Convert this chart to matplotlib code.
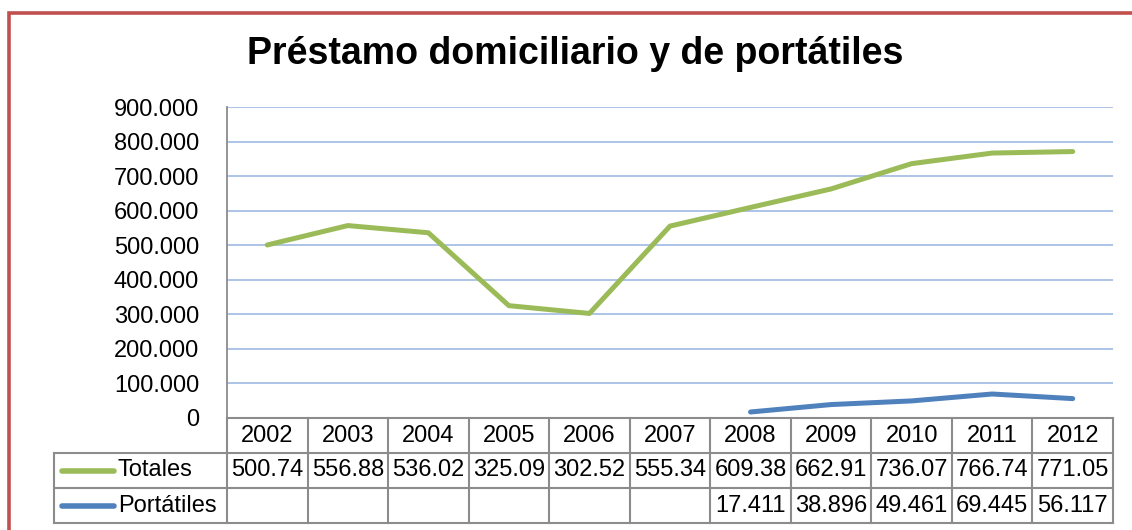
import numpy as np
import matplotlib.pyplot as plt
from matplotlib.lines import Line2D
from matplotlib.patches import Rectangle
from matplotlib.transforms import blended_transform_factory

plt.rcParams['font.family'] = ['Liberation Sans', 'DejaVu Sans']

# data
years = ['2002', '2003', '2004', '2005', '2006', '2007', '2008', '2009', '2010', '2011', '2012']
totales = [500740, 556880, 536020, 325090, 302520, 555340, 609380, 662910, 736070, 766740, 771050]
portatiles = [None, None, None, None, None, None, 17411, 38896, 49461, 69445, 56117]
series_names = ['Totales', 'Portátiles']
yticks = [0, 100000, 200000, 300000, 400000, 500000, 600000, 700000, 800000, 900000]

GREEN = '#9BBB59'
BLUE = '#4F81BD'
GRID = '#A7BFE6'
EDGE = '#8C8C8C'

W, H = 1132, 530
fig = plt.figure(figsize=(W / 100, H / 100), dpi=100)

# red frame (cut off at right and bottom like the screenshot)
fig.patches.append(Rectangle((8.5 / W, -0.1), 1.2, 1 - 13 / H + 0.1, transform=fig.transFigure,
                             fill=False, edgecolor='#C0504D', lw=2.6))

ax_l, ax_r, ax_t, ax_b = 227, 1113, 107, 418
ax = fig.add_axes([ax_l / W, 1 - ax_b / H, (ax_r - ax_l) / W, (ax_b - ax_t) / H])

x = np.arange(len(years))
pt = np.array([np.nan if v is None else v for v in portatiles], dtype=float)
ax.plot(x, totales, color=GREEN, lw=3.6, solid_capstyle='round', zorder=3)
ax.plot(x, pt, color=BLUE, lw=3.6, solid_capstyle='round', zorder=3)

ax.set_xlim(-0.5, len(years) - 0.5)
ax.set_ylim(0, 900000)
ax.set_yticks(yticks)
ax.set_yticklabels(['0' if v == 0 else f'{v // 1000}.000' for v in yticks], fontsize=17)
ax.tick_params(axis='y', length=0, pad=20)
ax.set_xticks([])
for v in yticks[1:]:
    ax.axhline(v, color=GRID, lw=1.3, zorder=1)
for s in ['top', 'right', 'bottom']:
    ax.spines[s].set_visible(False)
ax.spines['left'].set_color(EDGE)
ax.spines['left'].set_linewidth(1.3)

fig.text(575 / W, 1 - 54 / H, 'Préstamo domiciliario y de portátiles', ha='center', va='center',
         fontsize=27, fontweight='bold')

# data table under the axes
pw = ax_r - ax_l
ph = ax_b - ax_t
row_h = 35 / ph
leg_left = -(ax_l - 54) / pw
tr = blended_transform_factory(ax.transData, ax.transAxes)
kw = dict(color=EDGE, lw=1.5, clip_on=False)

ax.add_line(Line2D([-0.5, len(years) - 0.5], [0, 0], transform=tr, **kw))
for k in range(1, 4):
    ax.add_line(Line2D([leg_left, 1], [-k * row_h, -k * row_h], transform=ax.transAxes, **kw))
ax.add_line(Line2D([leg_left, leg_left], [-row_h, -3 * row_h], transform=ax.transAxes, **kw))
for i in range(len(years) + 1):
    ax.add_line(Line2D([i - 0.5, i - 0.5], [0, -3 * row_h], transform=tr, **kw))

for i, yr in enumerate(years):
    ax.text(i, -0.5 * row_h, yr, transform=tr, ha='center', va='center', fontsize=17)
    ax.text(i, -1.5 * row_h, f'{totales[i] / 1000:.2f}', transform=tr, ha='center', va='center', fontsize=17)
    if portatiles[i] is not None:
        ax.text(i, -2.5 * row_h, f'{portatiles[i] / 1000:.3f}', transform=tr, ha='center', va='center',
                fontsize=17)

for k, (name, col) in enumerate(zip(series_names, [GREEN, BLUE])):
    yy = -(1.5 + k) * row_h
    ax.add_line(Line2D([-(ax_l - 62) / pw, -(ax_l - 114) / pw], [yy, yy], transform=ax.transAxes,
                       color=col, lw=4, solid_capstyle='round', clip_on=False))
    ax.text(-(ax_l - 118) / pw, yy, name, transform=ax.transAxes, ha='left', va='center', fontsize=17)

fig.savefig('out.png', dpi=100)
